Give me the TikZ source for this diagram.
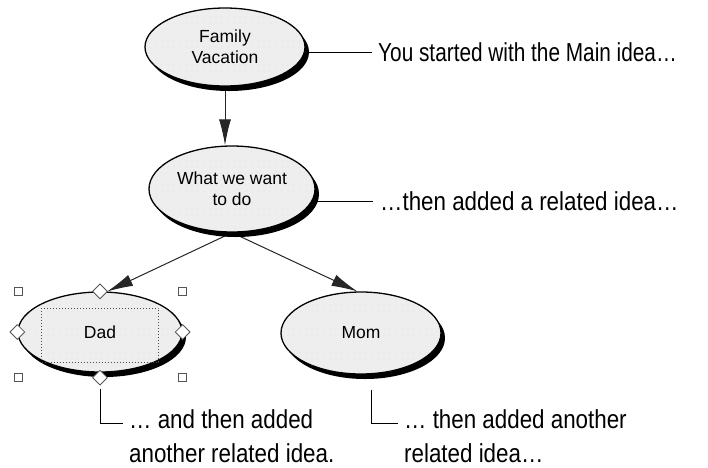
\documentclass[tikz,border=0pt]{standalone}
\usepackage{fontspec}
\setmainfont{Liberation Sans}
\newfontfamily\calloutfont[FakeStretch=0.86]{Liberation Sans}
\newfontfamily\calloutnarrow[FakeStretch=0.80]{Liberation Sans}
\usetikzlibrary{shapes.geometric,arrows.meta,shadows,patterns.meta}

\definecolor{ideafill}{HTML}{EEEEEE}
\definecolor{handlegray}{HTML}{555555}

\pgfdeclarelayer{bg}
\pgfsetlayers{bg,main}

\begin{document}
\begin{tikzpicture}[x=1pt,y=-1pt,
  idea/.style={ellipse, draw=black, line width=1.3pt, inner sep=0pt,
    fill=ideafill, align=center,
    postaction={pattern={Dots[distance=6pt,radius=0.45pt]}, pattern color=black!18},
    drop shadow={shadow xshift=4pt, shadow yshift=-5pt, fill=black, opacity=1},
    font=\fontsize{17.5}{21}\selectfont},
  callout/.style={inner sep=0pt, align=left,
    font=\calloutfont\fontsize{26}{34}\selectfont},
  narrowcallout/.style={callout, font=\calloutnarrow\fontsize{26}{34}\selectfont},
  link/.style={draw=black!85, line width=1pt, -{Latex[length=26pt,width=12pt]}},
  leader/.style={draw=black, line width=0.8pt},
  sqhandle/.style={rectangle, draw=handlegray, fill=white, line width=1pt,
    minimum size=8pt, inner sep=0pt},
  dmhandle/.style={diamond, draw=handlegray, fill=white, line width=0.8pt,
    minimum size=15pt, inner sep=0pt},
  selbox/.style={draw=black!70, dotted, line width=1pt, inner sep=0pt},
]
\useasboundingbox (0,0) rectangle (708,467);

% ideas
\node[idea, minimum width=160pt, minimum height=78pt] (fam)  at (225,47)  {Family\\Vacation};
\node[idea, minimum width=166pt, minimum height=86pt] (what) at (232,189) {What we want\\to do};
\node[idea, minimum width=164pt, minimum height=80pt] (dad)  at (100,332) {Dad};
\node[idea, minimum width=160pt, minimum height=82pt] (mom)  at (361,333) {Mom};

% explanatory texts
\node[narrowcallout, anchor=west] (t1) at (378,52)  {You started with the Main idea…};
\node[callout, anchor=west] (t2) at (380,201) {…then added a related idea…};
\node[callout, anchor=base west] (t3) at (129,462) {… and then added\\another related idea.};
\node[callout, anchor=base west] (t4) at (404,462) {… then added another\\related idea…};

% selection marks around Dad
\node[selbox, minimum width=117pt, minimum height=54pt] (dadsel) at ([yshift=-3pt]dad.center) {};
\node[sqhandle] (sq1) at (18,291)  {};
\node[sqhandle] (sq2) at (182,291) {};
\node[sqhandle] (sq3) at (18,377)  {};
\node[sqhandle] (sq4) at (182,377) {};
\node[dmhandle] (dm1) at (dad.north) {};
\node[dmhandle] (dm2) at (dad.west)  {};
\node[dmhandle] (dm3) at (dad.east)  {};
\node[dmhandle] (dm4) at ([yshift=-5pt]dad.south) {};

% connectors, drawn beneath the ideas
\begin{pgfonlayer}{bg}
  \draw[link] (fam.south) -- (fam.south |- what.north);
  \draw[link] (what.south) -- (dad.80);
  \draw[link] (what.south) -- (mom.95);

  \draw[leader] ([xshift=-6pt]t1.west) -- (t1.west -| fam.center);
  \draw[leader] ([xshift=-7pt]t2.west) -- (t2.west -| what.center);
  \draw[leader] ([yshift=-16pt]dad.south) |- ([shift={(-6pt,39pt)}]t3.base west);
  \draw[leader] ([shift={(10pt,-15pt)}]mom.south) |- ([shift={(-6pt,39pt)}]t4.base west);
\end{pgfonlayer}
\end{tikzpicture}
\end{document}
